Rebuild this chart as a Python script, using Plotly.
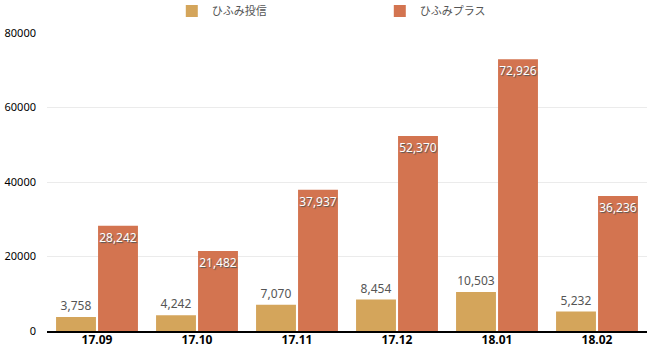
import plotly.graph_objects as go

categories = ["17.09", "17.10", "17.11", "17.12", "18.01", "18.02"]
hifumi_toshin = [3758, 4242, 7070, 8454, 10503, 5232]
hifumi_plus = [28242, 21482, 37937, 52370, 72926, 36236]
series_names = ["ひふみ投信", "ひふみプラス"]
y_ticks = [0, 20000, 40000, 60000, 80000]

FONT = "Noto Sans, Noto Sans CJK JP"
fig = go.Figure()
fig.add_trace(go.Bar(
    x=categories, y=hifumi_toshin, name=series_names[0],
    marker=dict(color="#D4A55B", line=dict(width=0)),
    text=[f"{v:,}" for v in hifumi_toshin], textposition="outside",
    textfont=dict(color="#555555", size=12, family=FONT), cliponaxis=False,
))
fig.add_trace(go.Bar(
    x=categories, y=hifumi_plus, name=series_names[1],
    marker=dict(color="#D37450", line=dict(width=0)),
    text=[f"{v:,}" for v in hifumi_plus], textposition="inside", textangle=0,
    insidetextanchor="end", constraintext="none",
    textfont=dict(color="white", size=12, family=FONT, shadow="1px 1px 1px #555"),
))
fig.update_layout(
    width=647, height=347,
    margin=dict(l=47, r=0, t=33, b=16, autoexpand=False),
    paper_bgcolor="white", plot_bgcolor="white",
    barmode="group", bargap=0.16, bargroupgap=0.05,
    font=dict(family=FONT, color="#000000", size=11),
    legend=dict(orientation="h", x=0.208, xanchor="left", y=1.074, yanchor="middle",
                entrywidth=163, entrywidthmode="pixels",
                font=dict(size=11, color="#555555", family="Noto Sans CJK JP"),
                itemclick=False, tracegroupgap=0),
    showlegend=True,
)
fig.update_xaxes(showline=True, linecolor="black", linewidth=1.5, ticks="",
                 ticklabelstandoff=-3,
                 tickfont=dict(size=12, color="black", family=FONT, weight="bold"))
fig.update_yaxes(range=[0, 80000], tickvals=y_ticks, ticktext=[str(v) for v in y_ticks],
                 showgrid=True, gridcolor="#EBEBEB", gridwidth=1, zeroline=False,
                 ticks="", ticklabelstandoff=10, tickfont=dict(size=11, color="black", family=FONT))
fig.write_html("out.html")
